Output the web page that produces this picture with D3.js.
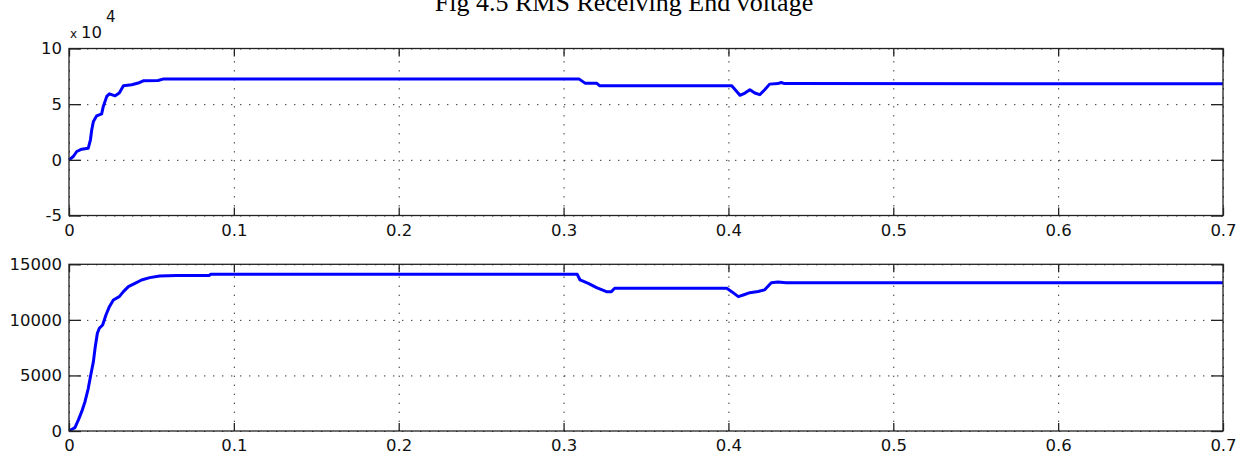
<!DOCTYPE html>
<html>
<head>
<meta charset="utf-8">
<script src="https://cdn.jsdelivr.net/npm/d3@7"></script>
<style>
  body { margin: 0; background: #fff; }
  svg { display: block; }
  .tick text { font-family: "DejaVu Sans", sans-serif; font-size: 16.5px; fill: #111; }
  .grid line { stroke: #333; stroke-dasharray: 1.4,7.6; }
  .grid path, .label-axis path { display: none; }
</style>
</head>
<body>
<svg id="chart" width="1248" height="457"></svg>
<script>
// time axis ticks (s)
const xTicks = [0, 0.1, 0.2, 0.3, 0.4, 0.5, 0.6, 0.7];

// top panel: voltage in units of 1e4
const topTicks = [-5, 0, 5, 10];
const topTime = [0, 0.0026, 0.0047, 0.0077, 0.0117, 0.013, 0.0138, 0.0148, 0.0168, 0.0198, 0.0208,
  0.0229, 0.0245, 0.028, 0.0305, 0.033, 0.038, 0.042, 0.045, 0.054, 0.057, 0.3095, 0.313, 0.32,
  0.322, 0.402, 0.407, 0.410, 0.413, 0.416, 0.419, 0.422, 0.425, 0.43, 0.432, 0.434, 0.7];
const topValues = [0, 0.3, 0.75, 0.96, 1.05, 1.8, 2.7, 3.45, 3.95, 4.13, 4.8,
  5.7, 5.93, 5.75, 6.0, 6.65, 6.74, 6.9, 7.1, 7.13, 7.25, 7.25, 6.89, 6.89,
  6.65, 6.65, 5.8, 6.0, 6.3, 6.0, 5.85, 6.3, 6.8, 6.85, 6.95, 6.85, 6.83];

// bottom panel: RMS voltage
const botTicks = [0, 5000, 10000, 15000];
const botTime = [0, 0.0036, 0.0057, 0.0077, 0.0097, 0.0117, 0.0132, 0.0148, 0.0158, 0.0172, 0.0184,
  0.0204, 0.0224, 0.0245, 0.0269, 0.0305, 0.033, 0.036, 0.040, 0.044, 0.049, 0.055, 0.065, 0.085,
  0.086, 0.3083, 0.31, 0.315, 0.32, 0.326, 0.329, 0.331, 0.399, 0.402, 0.406, 0.409, 0.413, 0.418,
  0.422, 0.426, 0.43, 0.435, 0.7];
const botValues = [0, 300, 1000, 1740, 2640, 3840, 5040, 6240, 7440, 8790, 9240,
  9540, 10440, 11190, 11790, 12090, 12540, 12990, 13290, 13590, 13800, 13950, 14000, 14000,
  14100, 14100, 13590, 13290, 12900, 12540, 12540, 12840, 12840, 12540, 12090, 12240, 12450, 12550,
  12700, 13350, 13400, 13330, 13330];

const svg = d3.select('#chart');

svg.append('text')
  .attr('x', 624)
  .attr('y', 11)
  .attr('text-anchor', 'middle')
  .style('font-family', '"Liberation Serif", serif')
  .style('font-size', '26px')
  .text('Fig 4.5 RMS Receiving End voltage');

function drawPanel(cfg) {
  const left = 69, right = 1223;
  const x = d3.scaleLinear().domain([0, 0.7]).range([left, right]);
  const y = d3.scaleLinear().domain(cfg.domain).range([cfg.bottom, cfg.top]);
  const w = right - left, h = cfg.bottom - cfg.top;
  const g = svg.append('g');
  const fmt = d => String(d);

  // dotted grid
  g.append('g').attr('class', 'grid')
    .attr('transform', `translate(0,${cfg.bottom})`)
    .call(d3.axisBottom(x).tickValues(xTicks).tickSize(-h).tickFormat(''));
  g.append('g').attr('class', 'grid')
    .attr('transform', `translate(${left},0)`)
    .call(d3.axisLeft(y).tickValues(cfg.ticks).tickSize(-w).tickFormat(''));

  // curve
  const pts = d3.zip(cfg.time, cfg.values);
  g.append('path')
    .datum(pts)
    .attr('fill', 'none')
    .attr('stroke', '#0000ff')
    .attr('stroke-width', 3)
    .attr('stroke-linejoin', 'round')
    .attr('d', d3.line().x(d => x(d[0])).y(d => y(d[1])));

  // frame
  g.append('rect')
    .attr('x', left).attr('y', cfg.top)
    .attr('width', w).attr('height', h)
    .attr('fill', 'none').attr('stroke', '#222').attr('stroke-width', 1.3);

  // inward ticks + labels
  const bx = g.append('g').attr('class', 'label-axis')
    .attr('transform', `translate(0,${cfg.bottom})`)
    .call(d3.axisBottom(x).tickValues(xTicks).tickSizeInner(-8).tickPadding(8.5).tickFormat(fmt));
  const tx = g.append('g').attr('class', 'label-axis')
    .attr('transform', `translate(0,${cfg.top})`)
    .call(d3.axisTop(x).tickValues(xTicks).tickSizeInner(-8).tickFormat(''));
  const ly = g.append('g').attr('class', 'label-axis')
    .attr('transform', `translate(${left},0)`)
    .call(d3.axisLeft(y).tickValues(cfg.ticks).tickSizeInner(-12).tickPadding(7).tickFormat(fmt));
  const ry = g.append('g').attr('class', 'label-axis')
    .attr('transform', `translate(${right},0)`)
    .call(d3.axisRight(y).tickValues(cfg.ticks).tickSizeInner(-12).tickFormat(''));
  [bx, tx, ly, ry].forEach(a => a.selectAll('.tick line').attr('stroke', '#222').attr('stroke-width', 1.3));
  return g;
}

const topPanel = drawPanel({ domain: [-5, 10], top: 48.5, bottom: 215.5, ticks: topTicks, time: topTime, values: topValues });
drawPanel({ domain: [0, 15000], top: 264.3, bottom: 431, ticks: botTicks, time: botTime, values: botValues });

// exponent label
const expo = topPanel.append('text')
  .attr('x', 70).attr('y', 38.3)
  .style('font-family', '"DejaVu Sans", sans-serif')
  .style('fill', '#111');
expo.append('tspan').style('font-size', '12px').text('x ');
expo.append('tspan').style('font-size', '16.5px').text('10');
topPanel.append('text')
  .attr('x', 106).attr('y', 21.7)
  .style('font-family', '"DejaVu Sans", sans-serif')
  .style('font-size', '15px')
  .style('fill', '#111')
  .text('4');
</script>
</body>
</html>
